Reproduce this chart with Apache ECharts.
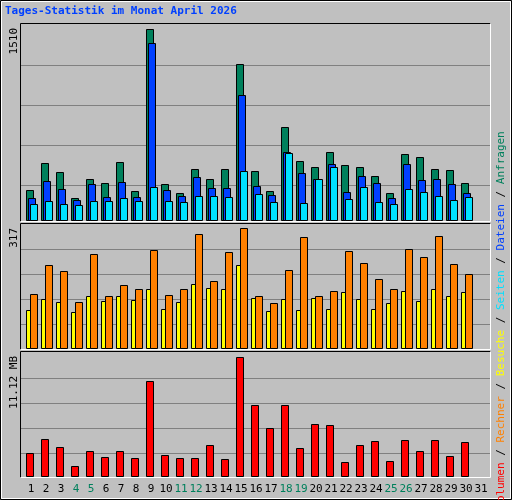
<!DOCTYPE html>
<html><head><meta charset="utf-8">
<script src="https://cdn.jsdelivr.net/npm/echarts@6/dist/echarts.min.js"></script>
<style>html,body{margin:0;padding:0;background:#c0c0c0}#c{width:512px;height:500px}</style>
</head><body><div id="c"></div>
<script>
const days = Array.from({length:31},(_,i)=>String(i+1));
const weekend = ['4','5','11','12','18','19','25','26'];
const anfragen = [237,451,379,174,324,292,458,229,1510,285,213,403,324,403,1233,387,229,735,466,419,538,435,419,348,213,522,498,403,395,292];
const dateien  = [174,308,245,158,285,182,300,182,1399,237,190,340,253,253,988,269,198,538,372,324,443,221,348,292,174,443,316,324,285,213];
const seiten   = [126,150,126,119,150,150,174,150,261,150,142,190,190,182,387,206,142,530,134,324,419,166,261,142,126,245,221,190,158,182];
const besuche  = [101,129,122,95,137,124,137,127,156,103,122,169,159,156,219,132,98,129,100,132,103,148,129,103,119,151,124,156,137,148];
const rechner  = [143,219,203,122,248,137,166,156,259,140,156,301,177,254,317,137,119,206,293,137,151,256,225,182,156,262,240,296,222,195];
const volumenMB= [2.17,3.48,2.73,0.96,2.36,1.80,2.36,1.71,8.88,1.99,1.71,1.71,2.92,1.62,11.12,6.65,4.50,6.65,2.64,4.88,4.78,1.34,2.92,3.29,1.43,3.39,2.36,3.39,1.89,3.20];
const topLabels = ['1510','317','11.12 MB'];

const C = {hits:'#00805c',files:'#0040ff',pages:'#00e0ff',visits:'#ffff00',sites:'#ff8000',kb:'#ff0000'};
const panels = [{top:24,h:196,lab:191,maxV:1510},{top:224,h:124,lab:120,maxV:317},{top:352,h:124,lab:119.3,maxV:11.12}];
const grids = panels.map(p=>({left:23.5,width:465,top:p.top,height:p.h}));
const xAxes = panels.map((p,i)=>({gridIndex:i,type:'category',data:days,show:i===2,
  axisLine:{show:false},axisTick:{show:false},
  axisLabel:{show:i===2,interval:0,margin:8,fontFamily:'DejaVu Sans Mono',fontSize:11,
    color:v=>weekend.includes(v)?C.hits:'#000'}}));
const yAxes = panels.map((p,i)=>({gridIndex:i,type:'value',min:0,max:p.maxV*p.h/p.lab,show:false,splitLine:{show:false}}));
function mk(g,data,off,w,color){
  return {type:'custom',xAxisIndex:g,yAxisIndex:g,data:data.map((v,i)=>[i,v]),
    renderItem:(p,api)=>{const b=api.coord([api.value(0),0]),t=api.coord([api.value(0),api.value(1)]);
      return {type:'rect',shape:{x:Math.round(b[0]+off)+0.5,y:Math.round(t[1])+0.5,width:w,height:Math.round(b[1])-Math.round(t[1])},
        style:{fill:color,stroke:'#000',lineWidth:1}};}};
}
const series=[mk(0,anfragen,-5.5,7,C.hits),mk(0,dateien,-3.5,7,C.files),mk(0,seiten,-1.5,7,C.pages),
  mk(1,besuche,-5.5,4,C.visits),mk(1,rechner,-1.5,7,C.sites),mk(2,volumenMB,-5.5,7,C.kb)];
const gfx=[];
gfx.push({type:'rect',shape:{x:0.5,y:0.5,width:511,height:499},style:{fill:'none',stroke:'#000'},z:-1});
gfx.push({type:'rect',shape:{x:1.5,y:1.5,width:509,height:497},style:{fill:'none',stroke:'#fff'},z:-1});
const gridFr=[[35,75,115,155],[24,49,74,99],[23.3,48.3,73.3,98.3]];
panels.forEach((p,i)=>{
  const bot=p.top+p.h;
  gfx.push({type:'rect',shape:{x:20.5,y:p.top+0.5-1,width:469,height:p.h+2},style:{fill:'#c0c0c0',stroke:'none'},z:-1});
  gridFr[i].forEach(d=>gfx.push({type:'line',shape:{x1:21,y1:Math.round(bot-d)+0.5,x2:490,y2:Math.round(bot-d)+0.5},style:{stroke:'#808080',lineWidth:1},z:0}));
  gfx.push({type:'polyline',shape:{points:[[20.5,bot+1.5],[20.5,p.top-0.5],[490.5,p.top-0.5]]},style:{stroke:'#000',fill:'none'},z:10});
  gfx.push({type:'polyline',shape:{points:[[20.5,bot+1.5],[490.5,bot+1.5],[490.5,p.top-0.5]]},style:{stroke:'#fff',fill:'none'},z:10});
  gfx.push({type:'text',x:14,y:p.top+4,rotation:Math.PI/2,style:{text:topLabels[i],align:'right',verticalAlign:'middle',
    font:'11px DejaVu Sans Mono',fill:'#000'},z:10});
});
gfx.push({type:'text',x:5,y:11,style:{text:'Tages-Statistik im Monat April 2026',font:'bold 11px DejaVu Sans Mono',fill:'#0040ff',verticalAlign:'middle'},z:10});
const leg=[['Volumen','kb'],['Rechner','sites'],['Besuche','visits'],['Seiten','pages'],['Dateien','files'],['Anfragen','hits']];
const rich={sep:{fill:'#000',font:'11px DejaVu Sans Mono'}};
leg.forEach(([t,k])=>rich[k]={fill:C[k],font:'11px DejaVu Sans Mono'});
gfx.push({type:'text',x:501,y:320,rotation:Math.PI/2,style:{text:leg.map(([t,k])=>'{'+k+'|'+t+'}').join('{sep| / }'),
  rich,align:'center',verticalAlign:'middle',font:'11px DejaVu Sans Mono'},z:10});
const chart=echarts.init(document.getElementById('c'));
chart.setOption({backgroundColor:'#c0c0c0',animation:false,grid:grids,xAxis:xAxes,yAxis:yAxes,series,graphic:gfx});
</script></body></html>
